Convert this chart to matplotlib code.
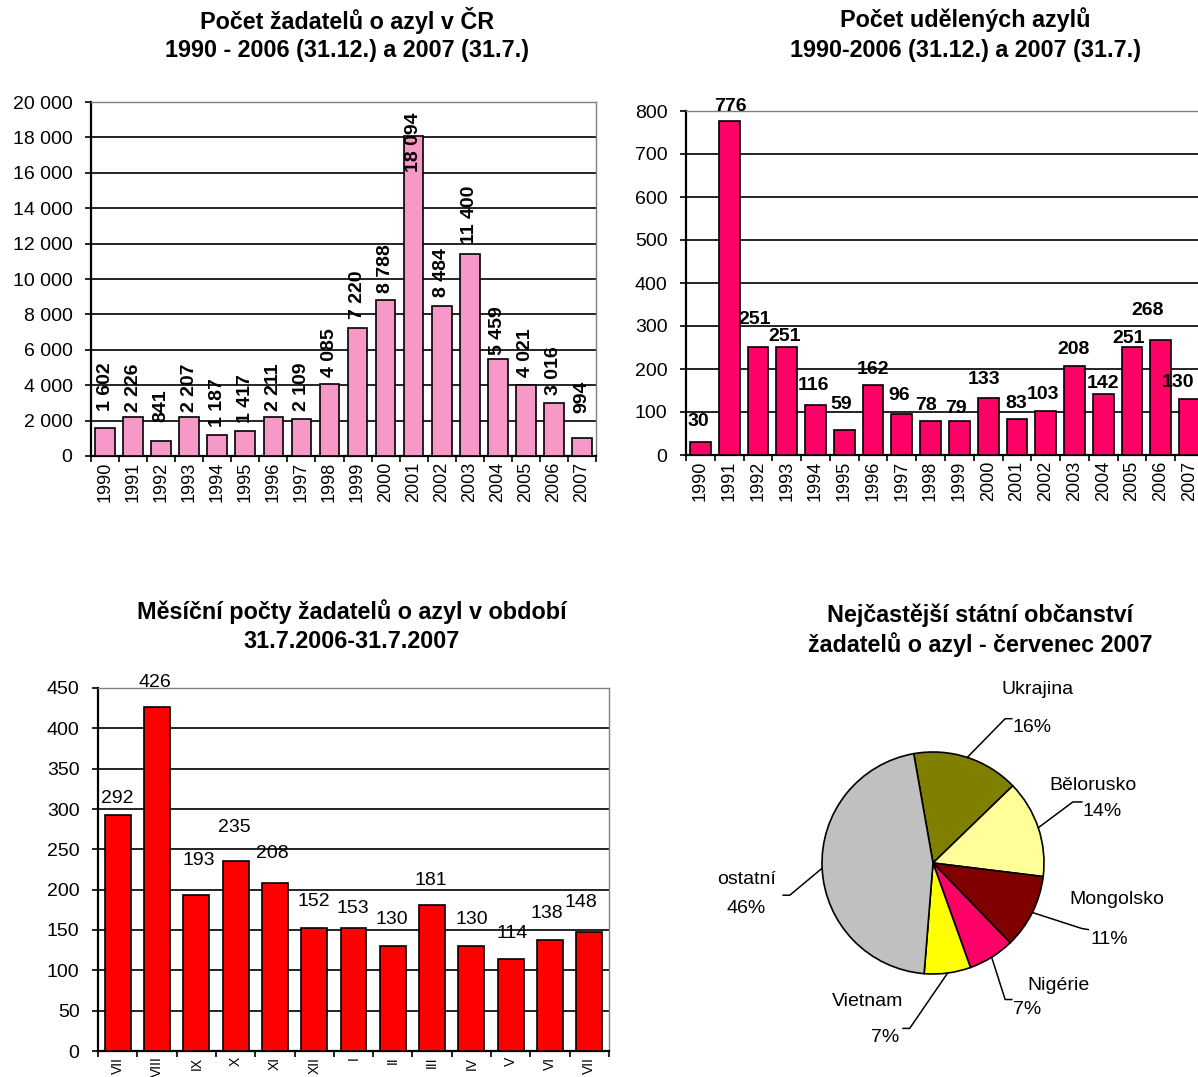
import numpy as np
import matplotlib
matplotlib.use('Agg')
import matplotlib.pyplot as plt

plt.rcParams['font.family'] = ['Liberation Sans', 'DejaVu Sans']

# --- data ---
years = ['1990', '1991', '1992', '1993', '1994', '1995', '1996', '1997', '1998',
         '1999', '2000', '2001', '2002', '2003', '2004', '2005', '2006', '2007']
applicants = [1602, 2226, 841, 2207, 1187, 1417, 2211, 2109, 4085,
              7220, 8788, 18094, 8484, 11400, 5459, 4021, 3016, 994]
granted = [30, 776, 251, 251, 116, 59, 162, 96, 78,
           79, 133, 83, 103, 208, 142, 251, 268, 130]

months = ['VII', 'VIII', 'IX', 'X', 'XI', 'XII', 'I', 'II', 'III', 'IV', 'V', 'VI', 'VII']
monthly = [292, 426, 193, 235, 208, 152, 153, 130, 181, 130, 114, 138, 148]

countries = ['Ukrajina', 'Bělorusko', 'Mongolsko', 'Nigérie', 'Vietnam', 'ostatní']
july_counts = [23, 21, 16, 10, 10, 68]
pie_colors = ['#808000', '#FFFF99', '#800000', '#FF0066', '#FFFF00', '#C0C0C0']

# label placement as Excel left it (pixel gap above bar, horizontal shift)
gap_tl = [17, 5, 19, 5, 8, 8, 6, 8, 7, 9, 7, -36, 9, 10, 4, 8, 8, 25]
gap_tr = [12, 6, 19, 2, 11, 17, 7, 10, 7, 4, 10, 7, 8, 8, 2, 0, 21, 8]
shift_tr = [-2, 1, -3, -2, -2, -3, 0, -3, -5, -3, -4, -1, -3, -1, 0, -3, -13, -12]
gap_bl = [8, 16, 26, 25, 21, 18, 11, 18, 16, 18, 17, 18, 21]
shift_bl = [0, -2, 2, -1, -3, 0, -1, -1, -1, 0, 1, -3, -8]

W, H = 1198, 1077
PT = 72 / 100  # points per pixel
fig = plt.figure(figsize=(W / 100, H / 100), dpi=100)


def px_axes(left, top, right, bottom):
    return fig.add_axes([left / W, 1 - bottom / H, (right - left) / W, (bottom - top) / H])


def fmt(v):
    return f"{v:,}".replace(',', ' ')


def bar_chart(ax, labels, values, color, ymax, ystep, width, tick_fs=13):
    n = len(values)
    x = np.arange(n)
    ax.bar(x, values, width=width, color=color, edgecolor='black', linewidth=1.2, zorder=3)
    ax.set_xlim(-0.5, n - 0.5)
    ax.set_ylim(0, ymax)
    yt = np.arange(0, ymax + 1, ystep)
    ax.set_yticks(yt)
    ax.set_yticklabels([fmt(int(v)) for v in yt], fontsize=14)
    ax.yaxis.grid(True, color='black', linewidth=1.2, zorder=0)
    ax.set_axisbelow(True)
    ax.set_xticks(np.arange(-0.5, n), labels=[''] * (n + 1))
    ax.set_xticks(x, labels=labels, minor=True)
    ax.tick_params(axis='x', which='major', length=4.5, width=1.2, direction='out')
    ax.tick_params(axis='x', which='minor', length=0, pad=4, labelsize=tick_fs, labelrotation=90)
    ax.tick_params(axis='y', length=4.3, width=1.2, pad=9)
    for s in ['left', 'bottom']:
        ax.spines[s].set_linewidth(1.6)
        ax.spines[s].set_color('black')
    for s in ['top', 'right']:
        ax.spines[s].set_color('#808080')
        ax.spines[s].set_linewidth(1)
    return x


def title(xc, y1, line1, line2):
    fig.text(xc / W, 1 - y1 / H, line1, ha='center', va='center', fontsize=16.8, fontweight='bold')
    fig.text(xc / W, 1 - (y1 + 30) / H, line2, ha='center', va='center', fontsize=16.8, fontweight='bold')


# --- top left: applicants per year ---
ax1 = px_axes(91, 102, 596, 456)
x1 = bar_chart(ax1, years, applicants, '#F799C8', 20000, 2000, 0.7)
for xi, v, g in zip(x1, applicants, gap_tl):
    ax1.annotate(fmt(v), (xi, v), xytext=(0, g * PT), textcoords='offset points',
                 rotation=90, ha='center', va='bottom', fontsize=14, fontweight='bold')
title(347, 20, 'Počet žadatelů o azyl v ČR', '1990 - 2006 (31.12.) a 2007 (31.7.)')

# --- top right: granted asylums ---
ax2 = px_axes(686, 111, 1204, 455)
x2 = bar_chart(ax2, years, granted, '#FF0066', 800, 100, 0.72)
for xi, v, g, d in zip(x2, granted, gap_tr, shift_tr):
    ax2.annotate(str(v), (xi, v), xytext=(d * PT, g * PT), textcoords='offset points',
                 ha='center', va='bottom', fontsize=14, fontweight='bold')
title(965, 20, 'Počet udělených azylů', '1990-2006 (31.12.) a 2007 (31.7.)')

# --- bottom left: monthly applicants ---
ax3 = px_axes(98, 688, 609, 1051)
x3 = bar_chart(ax3, months, monthly, '#FF0000', 450, 50, 0.66, tick_fs=10)
for xi, v, g, d in zip(x3, monthly, gap_bl, shift_bl):
    ax3.annotate(str(v), (xi, v), xytext=(d * PT, g * PT), textcoords='offset points',
                 ha='center', va='bottom', fontsize=14)
title(352, 612, 'Měsíční počty žadatelů o azyl v období', '31.7.2006-31.7.2007')

# --- bottom right: pie ---
cx, cy, r, L = 933, 863, 111, 2.2
s = 2 * L * r
ax4 = px_axes(cx - s / 2, cy - s / 2, cx + s / 2, cy + s / 2)
wedges, _ = ax4.pie(july_counts, colors=pie_colors, startangle=100, counterclock=False,
                    wedgeprops=dict(edgecolor='black', linewidth=1.2))
ax4.set_xlim(-L, L)
ax4.set_ylim(-L, L)
ax4.set_aspect('equal')
ax4.axis('off')

total = sum(july_counts)
pcts = [f"{round(c / total * 100)}%" for c in july_counts]
name_pos = [(0.94, 1.56), (1.44, 0.70), (1.66, -0.33), (1.13, -1.10), (-0.59, -1.25), (-1.68, -0.15)]
pct_pos = [(0.89, 1.22), (1.52, 0.46), (1.59, -0.69), (0.85, -1.32), (-0.43, -1.57), (-1.68, -0.41)]
elbows = [((0.65, 1.30), (0.71, 1.30)), ((1.26, 0.55), (1.34, 0.55)),
          ((1.34, -0.59), (1.40, -0.60)), ((0.65, -1.23), (0.71, -1.23)),
          ((-0.21, -1.49), (-0.27, -1.49)), ((-1.29, -0.29), (-1.35, -0.29))]
for w, name, pct, npos, ppos, (e1, e2) in zip(wedges, countries, pcts, name_pos, pct_pos, elbows):
    mid = np.deg2rad((w.theta1 + w.theta2) / 2)
    sx, sy = np.cos(mid), np.sin(mid)
    ax4.plot([sx, e1[0], e2[0]], [sy, e1[1], e2[1]], color='black', linewidth=1.1)
    ax4.text(npos[0], npos[1], name, ha='center', va='center', fontsize=14)
    ax4.text(ppos[0], ppos[1], pct, ha='center', va='center', fontsize=14)

title(980, 615, 'Nejčastější státní občanství', 'žadatelů o azyl - červenec 2007')

fig.savefig('out.png', dpi=100)
